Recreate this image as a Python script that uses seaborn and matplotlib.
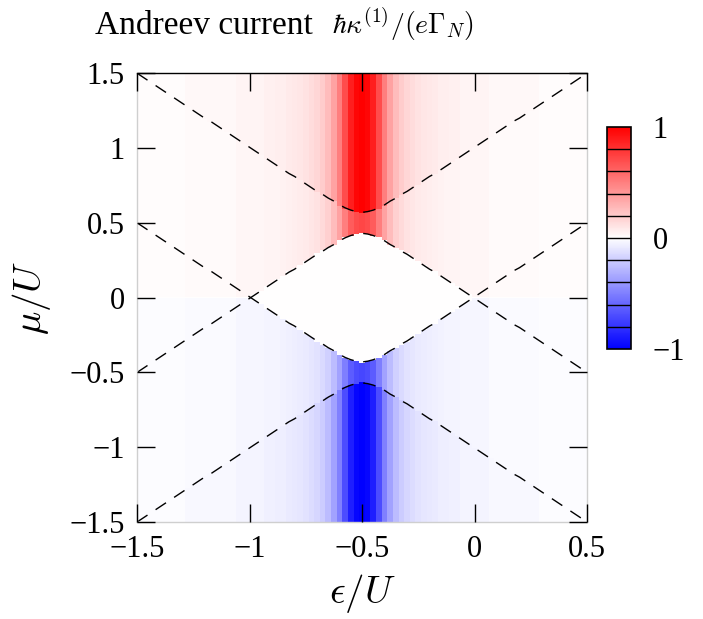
import numpy as np
import pandas as pd
import matplotlib
matplotlib.use("Agg")
import matplotlib.pyplot as plt
import seaborn as sns
from matplotlib.transforms import Affine2D

# columnas en eps/U (paso 0.025) y filas en mu/U (paso 0.01)
eps_cols = np.round(np.linspace(-1.5, 0.5, 81), 4)
mu_rows = np.round(np.linspace(1.5, -1.5, 301), 3)

# perfil de intensidad, de eps=-1.5 a eps=-0.5 (simetrico)
perfil_mitad = [0.015, 0.015, 0.015, 0.015, 0.015, 0.015, 0.015, 0.015, 0.015,
                0.03, 0.03, 0.03, 0.03, 0.03, 0.03, 0.03, 0.03, 0.03,
                0.045, 0.045, 0.045, 0.045, 0.045,
                0.055, 0.06, 0.065, 0.07, 0.08, 0.09, 0.10, 0.115, 0.135,
                0.16, 0.20, 0.26, 0.36, 0.50, 0.70, 0.88, 0.97, 1.0]

# curva exterior superior (linea discontinua), de eps=-1.5 a eps=-0.5
curva_ext_mitad = [1.50, 1.475, 1.45, 1.425, 1.40, 1.375, 1.35, 1.325, 1.30,
                   1.275, 1.25, 1.225, 1.20, 1.18, 1.155, 1.13, 1.105, 1.08,
                   1.055, 1.03, 1.005, 0.98, 0.955, 0.93, 0.905, 0.88, 0.855,
                   0.83, 0.81, 0.785, 0.76, 0.735, 0.71, 0.69, 0.665, 0.645,
                   0.62, 0.60, 0.585, 0.575, 0.57]

# curva interior superior, de eps=-1.5 a eps=-0.5
curva_int_mitad = [-0.50, -0.475, -0.45, -0.425, -0.40, -0.375, -0.35, -0.325, -0.30,
                   -0.275, -0.25, -0.225, -0.20, -0.18, -0.155, -0.13, -0.105, -0.08,
                   -0.055, -0.03, -0.005, 0.02, 0.045, 0.07, 0.095, 0.12, 0.145,
                   0.17, 0.19, 0.215, 0.24, 0.265, 0.29, 0.31, 0.335, 0.355,
                   0.38, 0.40, 0.415, 0.425, 0.43]

factor_entre = 0.72  # intensidad relativa entre las dos curvas

xticks = [-1.5, -1.0, -0.5, 0.0, 0.5]
xlabels = ["\u22121.5", "\u22121", "\u22120.5", "0", "0.5"]
yticks = [-1.5, -1.0, -0.5, 0.0, 0.5, 1.0, 1.5]
ylabels = ["\u22121.5", "\u22121", "\u22120.5", "0", "0.5", "1", "1.5"]
cticks = [-1, 0, 1]
clabels = ["\u22121", "0", "1"]
clineas = [-0.8, -0.6, -0.4, -0.2, 0.0, 0.2, 0.4, 0.6, 0.8]


def espejo(mitad):
    mitad = np.asarray(mitad, dtype=float)
    return np.concatenate([mitad, mitad[-2::-1]])


perfil = espejo(perfil_mitad)
curva_ext = espejo(curva_ext_mitad)
curva_int = espejo(curva_int_mitad)

# tabla para el heatmap
MU = mu_rows[:, None]
borde = np.maximum(0, curva_int)[None, :]
arriba = MU > borde
abajo = MU < -borde
fac = np.where(np.abs(MU) >= curva_ext[None, :], 1.0, factor_entre)
valores = perfil[None, :] * fac * (arriba.astype(float) - abajo.astype(float))
df = pd.DataFrame(valores, index=mu_rows, columns=eps_cols)

sns.set_style("white")
plt.rcParams["font.family"] = ["Liberation Serif", "DejaVu Serif"]
plt.rcParams["mathtext.fontset"] = "cm"
plt.rcParams["text.color"] = "black"
plt.rcParams["axes.labelcolor"] = "black"
plt.rcParams["xtick.color"] = "black"
plt.rcParams["ytick.color"] = "black"

fig = plt.figure(figsize=(7.03, 6.19), dpi=100)
ax = fig.add_axes([0.195, 0.1567, 0.640, 0.725])
cax = fig.add_axes([0.863, 0.436, 0.034, 0.359])

sns.heatmap(df, cmap="bwr", vmin=-1, vmax=1, ax=ax, cbar_ax=cax,
            xticklabels=False, yticklabels=False, rasterized=True)
ax.set_axisbelow(False)

# de coordenadas (eps, mu) a indices del heatmap
d_eps = 0.025
d_mu = 0.01
aff = Affine2D().scale(1 / d_eps, -1 / d_mu).translate(1.5 / d_eps + 0.5, 1.5 / d_mu + 0.5)
trans = aff + ax.transData

for curva in [curva_ext, curva_int, -curva_int, -curva_ext]:
    ax.plot(eps_cols, curva, color="black", lw=1.0, ls=(0, (9, 7)), transform=trans)

x0, y0 = aff.transform((-1.5, -1.5))
x1, y1 = aff.transform((0.5, 1.5))
ax.set_xlim(x0, x1)
ax.set_ylim(y0, y1)

ax.set_xticks([aff.transform((v, 0))[0] for v in xticks])
ax.set_xticklabels(xlabels)
ax.set_yticks([aff.transform((0, v))[1] for v in yticks])
ax.set_yticklabels(ylabels)
ax.tick_params(direction="in", length=13, width=1.0, top=True, right=True,
               bottom=True, left=True, labelsize=22, pad=9, colors="black")

for lado, sp in ax.spines.items():
    sp.set_visible(True)
    sp.set_linewidth(1.0)
    sp.set_color("black" if lado == "top" else "#cfcfcf")

ax.set_xlabel(r"$\epsilon/U$", fontsize=28, labelpad=6)
ax.set_ylabel(r"$\mu/U$", fontsize=28, labelpad=12)

# barra de color
cax.set_yticks(cticks)
cax.set_yticklabels(clabels)
cax.tick_params(length=0, labelsize=22, pad=16, colors="black")
for v in clineas:
    cax.axhline(v, color="black", lw=1.0)
cbar = ax.collections[0].colorbar
cbar.outline.set_visible(True)
cbar.outline.set_edgecolor("black")
cbar.outline.set_linewidth(1.2)

fig.text(95 / 703, 1 - 34 / 619, "Andreev current", fontsize=24, ha="left",
         va="baseline", color="black")
fig.text(332 / 703, 1 - 34 / 619, r"$\hbar\kappa^{(1)}/(e\Gamma_N)$", fontsize=20,
         ha="left", va="baseline", color="black")

fig.savefig("out.png", dpi=100)
